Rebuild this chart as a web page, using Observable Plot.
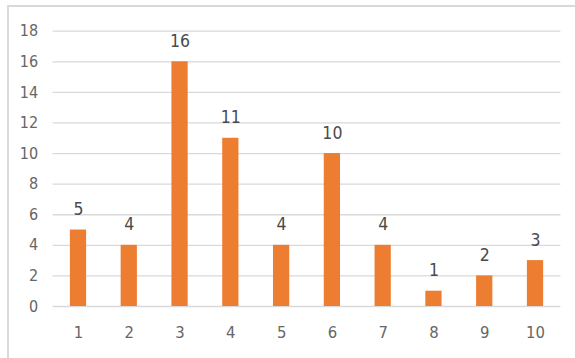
<!DOCTYPE html>
<html>
<head>
<meta charset="utf-8">
<script src="https://cdn.jsdelivr.net/npm/d3@7"></script>
<script src="https://cdn.jsdelivr.net/npm/@observablehq/plot@0.6"></script>
<style>
  html, body { margin: 0; padding: 0; background: #fff; }
  #wrap { position: relative; width: 575px; height: 358px; overflow: hidden; }
  #frameTop { position: absolute; left: 7px; top: 5px; width: 568px; height: 2px; background: #d9d9d9; }
  #frameLeft { position: absolute; left: 7px; top: 5px; width: 2px; height: 353px; background: #d9d9d9; }
  #chart { position: absolute; left: 0; top: 0; }
</style>
</head>
<body>
<div id="wrap">
  <div id="chart"></div>
  <div id="frameTop"></div>
  <div id="frameLeft"></div>
</div>
<script>
const categories = ["1", "2", "3", "4", "5", "6", "7", "8", "9", "10"];
const values = [5, 4, 16, 11, 4, 10, 4, 1, 2, 3];
const yTicks = [0, 2, 4, 6, 8, 10, 12, 14, 16, 18];

const data = categories.map((c, i) => ({cat: c, value: values[i]}));
const font = "'DejaVu Sans Condensed', 'Liberation Sans Narrow', sans-serif";

const chart = Plot.plot({
  width: 575,
  height: 358,
  marginLeft: 52.6,
  marginRight: 14.6,
  marginTop: 30.7,
  marginBottom: 52,
  style: {fontFamily: font, fontSize: "16px", color: "#595959", background: "transparent", overflow: "visible"},
  x: {domain: categories, paddingInner: 0.68, paddingOuter: 0.34, round: false, label: null},
  y: {domain: [0, 18], ticks: yTicks, label: null},
  marks: [
    Plot.ruleY(yTicks, {stroke: "#d9d9d9", strokeWidth: 1.3}),
    Plot.barY(data, {x: "cat", y: "value", fill: "#ED7D31"}),
    Plot.text(data, {x: "cat", y: "value", text: d => String(d.value), lineAnchor: "bottom", dy: -15, fill: "#4a4a4a", fontSize: 17.5}),
    Plot.axisY({ticks: yTicks, tickSize: 0, tickPadding: 15, fill: "#666666", fontSize: 16}),
    Plot.axisX({tickSize: 0, tickPadding: 20, fill: "#666666", fontSize: 16.5})
  ]
});
document.getElementById("chart").appendChild(chart);
</script>
</body>
</html>
